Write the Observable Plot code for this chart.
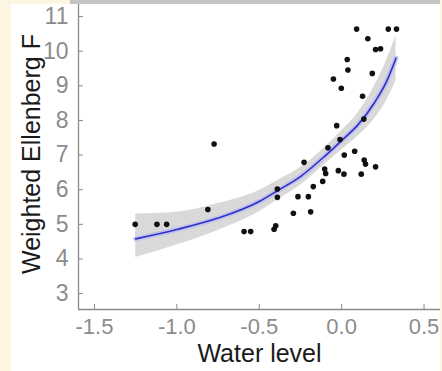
<!DOCTYPE html>
<html>
<head>
<meta charset="utf-8">
<script src="https://cdn.jsdelivr.net/npm/d3@7"></script>
<script src="https://cdn.jsdelivr.net/npm/@observablehq/plot@0.6"></script>
<style>
  html, body { margin: 0; padding: 0; background: #fdf5e2; width: 442px; height: 371px; overflow: hidden; }
  #panel { position: absolute; left: 11px; top: 4px; width: 429px; height: 367px; background: #ffffff; }
  #bar { position: absolute; left: 70px; top: 0; width: 370px; height: 4px; background: #c3c3c3; }
  #chart { position: absolute; left: 0; top: 0; }
  #chart svg { background: transparent; }
</style>
</head>
<body>
<div id="panel"></div>
<div id="bar"></div>
<div id="chart"></div>
<script>
// Observed sites
const waterLevel = [-1.253, -1.121, -1.062, -0.774, -0.812, -0.592, -0.552, -0.41, -0.40, -0.39, -0.39,
  -0.228, -0.293, -0.188, -0.265, -0.202, -0.172, -0.115, -0.103, -0.097, -0.083, -0.01, -0.02, 0.014,
  0.016, 0.079, 0.137, 0.145, 0.119, 0.206, 0.091, 0.159, 0.206, 0.236, 0.283, 0.333, 0.034, 0.038,
  -0.05, -0.002, 0.186, 0.127, 0.135, -0.03];
const ellenbergF = [5.0, 5.0, 5.0, 7.32, 5.43, 4.79, 4.79, 4.86, 4.96, 6.02, 5.78,
  6.79, 5.32, 5.36, 5.80, 5.80, 6.09, 6.24, 6.60, 6.47, 7.21, 7.45, 6.55, 6.45,
  7.0, 7.11, 6.86, 6.74, 6.45, 6.66, 10.64, 10.36, 10.05, 10.07, 10.64, 10.64, 9.76, 9.46,
  9.2, 8.93, 9.36, 8.70, 8.04, 7.85];

// Fitted curve and confidence band
const fitX  = [-1.25, -1.0, -0.75, -0.5, -0.39, -0.25, -0.1, 0.0, 0.1, 0.2, 0.27, 0.33];
const fitY  = [4.58, 4.85, 5.18, 5.66, 5.97, 6.38, 6.98, 7.42, 7.88, 8.52, 9.1, 9.8];
const fitLo = [4.04, 4.4, 4.82, 5.36, 5.7, 6.13, 6.74, 7.15, 7.55, 8.05, 8.55, 9.15];
const fitHi = [5.3, 5.35, 5.6, 5.98, 6.26, 6.64, 7.23, 7.7, 8.22, 9.0, 9.7, 10.45];

const xTicks = [-1.5, -1.0, -0.5, 0.0, 0.5];
const xTickLabels = ["-1.5", "-1.0", "-0.5", "0.0", "0.5"];
const yTicks = [3, 4, 5, 6, 7, 8, 9, 10, 11];
const xLabel = "Water level";
const yLabel = "Weighted Ellenberg F";

const points = waterLevel.map((x, i) => ({x, y: ellenbergF[i]}));
const fit = fitX.map((x, i) => ({x, y: fitY[i], lo: fitLo[i], hi: fitHi[i]}));

const xDomain = [-1.597, 0.6];
const yDomain = [2.54, 11.35];
const tickColor = "#8c8c8c";

const chart = Plot.plot({
  width: 442,
  height: 371,
  marginLeft: 78,
  marginRight: 2,
  marginTop: 4,
  marginBottom: 62,
  style: {background: "transparent", fontFamily: "'Liberation Sans', Arial, sans-serif"},
  x: {domain: xDomain},
  y: {domain: yDomain},
  marks: [
    Plot.areaY(fit, {x: "x", y1: "lo", y2: "hi", fill: "#d9d9d9", curve: "monotone-x"}),
    Plot.line(fit, {x: "x", y: "y", stroke: "#bcbcf0", strokeWidth: 5, strokeOpacity: 0.8, curve: "monotone-x"}),
    Plot.line(fit, {x: "x", y: "y", stroke: "#3030c8", strokeWidth: 1.6, curve: "monotone-x"}),
    Plot.dot(points, {x: "x", y: "y", r: 2.8, fill: "#111", stroke: "none"}),
    Plot.ruleX([xDomain[0]], {stroke: "#8a8a8a", strokeWidth: 1.3}),
    Plot.ruleY([yDomain[0]], {stroke: "#8a8a8a", strokeWidth: 1.3}),
    Plot.axisX(xTicks, {tickSize: -5, stroke: "#8a8a8a", tickFormat: () => "", label: null}),
    Plot.axisY(yTicks, {tickSize: -5, stroke: "#8a8a8a", tickFormat: () => "", label: null}),
    Plot.axisX(xTicks, {tickSize: 0, tickPadding: 9, fontSize: 22, fill: tickColor, tickFormat: d => xTickLabels[xTicks.indexOf(d)], label: null}),
    Plot.axisY(yTicks, {tickSize: 0, tickPadding: 10, fontSize: 23, fill: tickColor, tickFormat: d => String(d), label: null}),
    Plot.text([yLabel], {frameAnchor: "left", dx: -47, dy: -3, rotate: -90, fontSize: 25, fill: "#1a1a1a", textAnchor: "middle", lineAnchor: "middle", letterSpacing: "0.3px"}),
    Plot.text([xLabel], {frameAnchor: "bottom", dy: 44, fontSize: 25, fill: "#1a1a1a", textAnchor: "middle", lineAnchor: "middle", letterSpacing: "-0.6px"})
  ]
});
document.getElementById("chart").appendChild(chart);
</script>
</body>
</html>
